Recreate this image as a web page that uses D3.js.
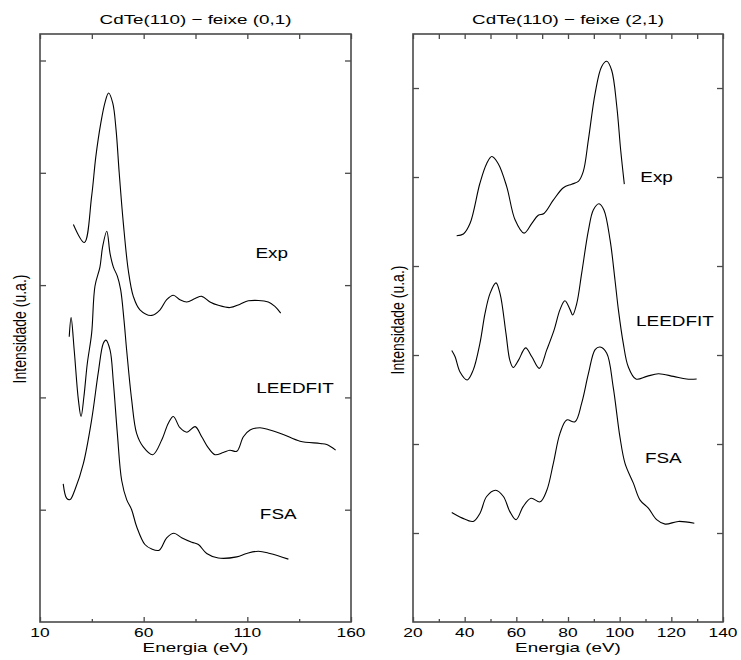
<!DOCTYPE html>
<html>
<head>
<meta charset="utf-8">
<script src="https://cdn.jsdelivr.net/npm/d3@7"></script>
<style>
  body { margin: 0; background: #fff; }
  text { font-family: "Liberation Sans", Arial, sans-serif; fill: #000; }
</style>
</head>
<body>
<div id="canvas"></div>
<script>
"use strict"

/* ---- data: energy (eV), intensity (arb. units) ---- */

// panel (0,1)
let exp01 = [[26.1,3.54],[31.4,3.38],[34.9,3.79],[36.9,4.14],[39.3,4.44],[41.4,4.63],[43.1,4.71],[45.1,4.62],
    [46.7,4.38],[48.2,4.00],[50.2,3.55],[52.6,3.13],[55.0,2.90],[58.2,2.78],[63.9,2.73],[67.9,2.78],[71.1,2.87],
    [74.3,2.91],[77.5,2.87],[80.8,2.85],[84.8,2.88],[88.0,2.90],[92.0,2.85],[96.0,2.82],[101.6,2.80],[106.5,2.83],
    [110.5,2.86],[120.1,2.85],[123.3,2.81],[126.1,2.75]];

let leedfit01 = [[24.1,2.54],[25.0,2.71],[26.5,2.42],[28.5,1.98],[29.8,1.83],[31.2,2.01],[32.8,2.30],[34.9,2.57],
    [36.5,2.99],[38.9,3.16],[40.2,3.34],[42.2,3.48],[43.8,3.28],[45.4,3.16],[47.3,3.08],[48.9,2.96],[50.5,2.69],
    [51.8,2.42],[54.2,1.98],[56.6,1.68],[59.8,1.56],[64.4,1.49],[68.7,1.62],[71.9,1.77],[74.3,1.83],[77.5,1.73],
    [80.8,1.69],[84.8,1.74],[88.0,1.65],[91.2,1.55],[94.4,1.49],[98.4,1.51],[101.6,1.53],[104.9,1.52],[108.1,1.65],
    [111.3,1.71],[116.1,1.73],[120.9,1.71],[127.3,1.67],[135.4,1.61],[145.1,1.59],[148.3,1.58],[152.6,1.53]];

let fsa01 = [[21.2,1.23],[22.9,1.10],[24.5,1.09],[26.9,1.18],[30.9,1.41],[34.9,1.80],[38.1,2.22],[40.5,2.48],
    [41.8,2.51],[43.8,2.42],[45.4,2.13],[47.3,1.68],[49.4,1.26],[51.8,1.09],[54.2,1.00],[56.6,0.85],[60.6,0.69],
    [63.9,0.65],[67.5,0.64],[71.1,0.75],[74.6,0.79],[78.3,0.75],[83.2,0.71],[86.4,0.69],[90.4,0.61],[96.0,0.57],
    [104.9,0.58],[109.7,0.61],[115.3,0.63],[120.9,0.61],[129.8,0.56]];

// panel (2,1)
let exp21 = [[36.9,4.34],[39.5,4.36],[42.1,4.48],[45.9,4.93],[48.5,5.15],[50.5,5.23],[53.0,5.15],[56.3,4.89],
    [59.5,4.52],[63.0,4.37],[66.0,4.48],[68.5,4.57],[70.7,4.59],[74.3,4.74],[78.2,4.88],[81.4,4.92],[84.0,4.95],
    [85.9,5.06],[87.9,5.42],[90.5,5.94],[93.0,6.24],[95.0,6.30],[96.9,6.20],[98.9,5.79],[100.4,5.30],[101.8,4.92]];

let leedfit21 = [[35.0,3.05],[36.3,2.98],[38.2,2.81],[41.0,2.72],[43.3,2.83],[45.9,3.13],[47.9,3.47],[49.8,3.69],
    [52.1,3.81],[53.7,3.69],[56.0,3.24],[57.5,2.94],[58.8,2.86],[60.8,2.94],[63.6,3.08],[66.0,2.98],[68.9,2.85],
    [71.8,3.06],[74.6,3.28],[76.9,3.51],[78.8,3.61],[80.8,3.51],[81.8,3.45],[83.4,3.58],[85.3,3.92],[87.9,4.40],
    [89.8,4.63],[92.0,4.70],[93.9,4.63],[96.3,4.29],[98.2,3.84],[99.5,3.51],[101.4,3.13],[103.3,2.87],[106.3,2.73],
    [110.5,2.76],[115.0,2.79],[120.8,2.76],[125.9,2.73],[129.8,2.73]];

let fsa21 = [[35.0,1.23],[38.9,1.17],[43.3,1.13],[45.9,1.22],[48.5,1.41],[52.0,1.48],[55.0,1.41],[57.5,1.24],
    [59.9,1.15],[62.7,1.30],[65.7,1.39],[69.2,1.35],[71.8,1.48],[74.3,1.78],[76.9,2.12],[79.5,2.27],[82.7,2.25],
    [85.3,2.46],[87.9,2.79],[90.5,3.06],[92.4,3.09],[95.0,3.02],[97.5,2.64],[100.1,2.08],[102.1,1.78],[105.3,1.56],
    [107.9,1.37],[111.1,1.28],[114.3,1.15],[117.6,1.10],[122.7,1.13],[128.9,1.11]];

// curve labels: [text, energy, intensity]
let labels01 = [["Exp", 121.8, 3.24], ["LEEDFIT", 133.0, 2.04], ["FSA", 124.9, 0.92]];
let labels21 = [["Exp", 114.3, 4.94], ["LEEDFIT", 121.4, 3.33], ["FSA", 116.9, 1.79]];

let titles = ["CdTe(110) \u2212 feixe (0,1)", "CdTe(110) \u2212 feixe (2,1)"];
let xDomain01 = [10, 160], xMajor01 = [10, 60, 110, 160], xMinor01 = [35, 85, 135];
let xDomain21 = [20, 140], xMajor21 = d3.range(20, 141, 20), xMinor21 = d3.range(30, 140, 20);

// the original is stretched sideways, text too
const SX = 1.45;

let drawing = d3.select("#canvas")
    .append("svg")
    .attr("width", 741)
    .attr("height", 660);

function stretchedText(g, str, x, y, size, sx, anchor) {
    return g.append("text")
        .attr("transform", `translate(${x},${y}) scale(${sx},1)`)
        .attr("text-anchor", anchor || "middle")
        .attr("font-size", size)
        .text(str);
}

/* draws one panel: frame, inward ticks, curves, labels */
function drawPanel(left, right, xDomain, xMajor, xMinor, yMax, title, curves, labels) {
    let top = 34, bottom = 622;
    let g = drawing.append("g");
    let x = d3.scaleLinear().domain(xDomain).range([left, right]);
    let y = d3.scaleLinear().domain([0, yMax]).range([bottom, top]);

    let frame = "#4a4a4a";

    // bottom axis with labels
    g.append("g")
        .attr("transform", `translate(0,${bottom})`)
        .call(d3.axisBottom(x).tickValues(xMajor).tickSize(-5).tickFormat(""))
        .call(a => a.select(".domain").remove());
    g.append("g")
        .attr("transform", `translate(0,${bottom})`)
        .call(d3.axisBottom(x).tickValues(xMinor).tickSize(-3).tickFormat(""))
        .call(a => a.select(".domain").remove());
    // top axis: every tick
    let topTicks = xMajor.concat(xMinor);
    g.append("g")
        .attr("transform", `translate(0,${top})`)
        .call(d3.axisTop(x).tickValues(topTicks).tickSize(-5).tickFormat(""))
        .call(a => a.select(".domain").remove());
    // left/right ticks, no labels
    let yTicks = d3.range(1, Math.floor(yMax) + 1);
    g.append("g")
        .attr("transform", `translate(${left},0)`)
        .call(d3.axisLeft(y).tickValues(yTicks).tickSize(-6).tickFormat(""))
        .call(a => a.select(".domain").remove());
    g.append("g")
        .attr("transform", `translate(${right},0)`)
        .call(d3.axisRight(y).tickValues(yTicks).tickSize(-6).tickFormat(""))
        .call(a => a.select(".domain").remove());
    g.selectAll(".tick line").attr("stroke", frame).attr("stroke-width", 1.3);

    g.append("rect")
        .attr("x", left).attr("y", top)
        .attr("width", right - left).attr("height", bottom - top)
        .attr("fill", "none")
        .attr("stroke", frame)
        .attr("stroke-width", 1.6);

    xMajor.forEach(v => stretchedText(g, v, x(v), 637, 12, SX));
    stretchedText(g, "Energia (eV)", (left + right) / 2, 652, 13, SX);
    stretchedText(g, title, (left + right) / 2, 24, 13, SX);

    let line = d3.line()
        .x(d => x(d[0]))
        .y(d => y(d[1]))
        .curve(d3.curveCatmullRom.alpha(0.5));

    curves.forEach(c => {
        g.append("path")
            .attr("d", line(c))
            .attr("fill", "none")
            .attr("stroke", "#000")
            .attr("stroke-width", 1.1);
    });

    labels.forEach(l => stretchedText(g, l[0], x(l[1]), y(l[2]), 14, 1.35));

    return g;
}

drawPanel(40, 351, xDomain01, xMajor01, xMinor01, 5.236, titles[0], [exp01, leedfit01, fsa01], labels01);
drawPanel(413, 723, xDomain21, xMajor21, xMinor21, 6.607, titles[1], [exp21, leedfit21, fsa21], labels21);

// y axis titles
[[26, 329], [404, 320]].forEach(p => {
    drawing.append("text")
        .attr("transform", `translate(${p[0]},${p[1]}) scale(1.3,1) rotate(-90)`)
        .attr("text-anchor", "middle")
        .attr("font-size", 14)
        .text("Intensidade (u.a.)");
});
</script>
</body>
</html>
